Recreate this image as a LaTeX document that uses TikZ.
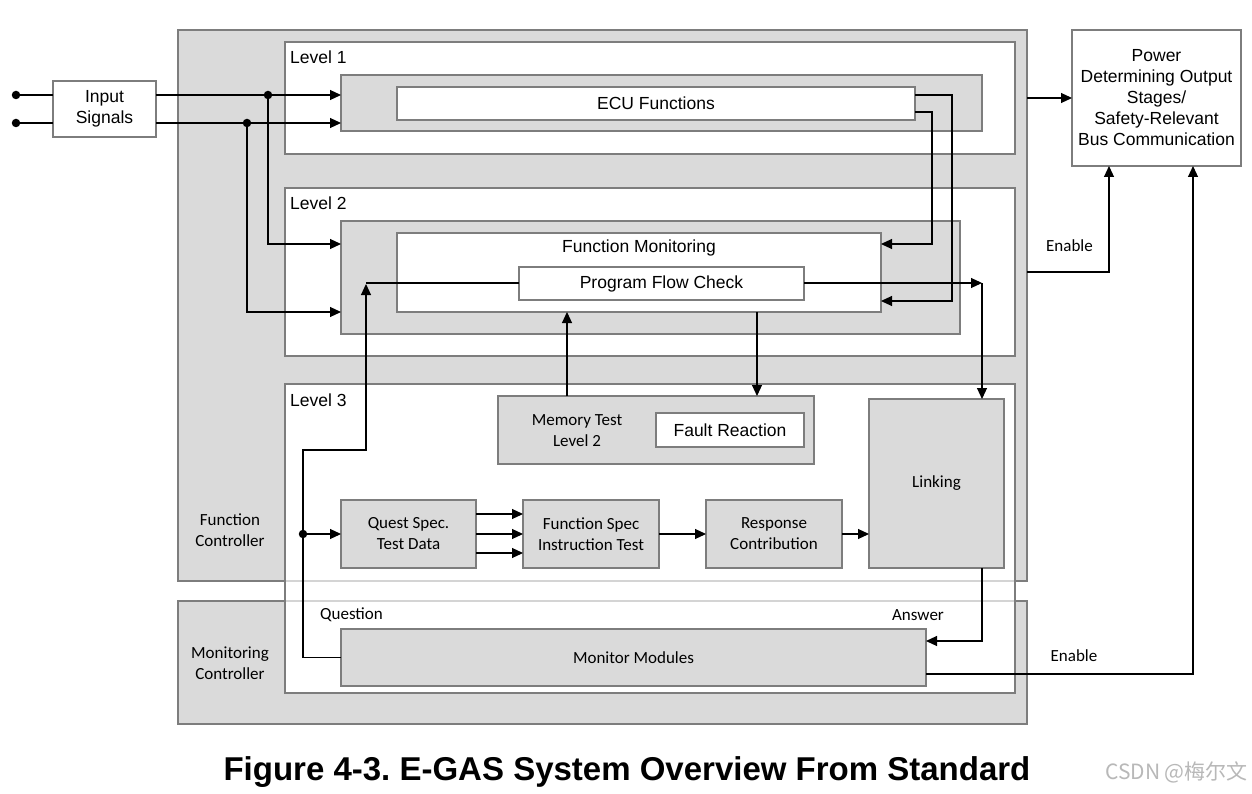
\documentclass[tikz,border=0pt]{standalone}
\usepackage{fontspec}
\setmainfont{Liberation Sans}
\newfontfamily\calib{Carlito}
\newfontfamily\cjkfont{Noto Sans CJK SC}
\usetikzlibrary{arrows.meta,calc}
\definecolor{boxgray}{RGB}{218,218,218}
\definecolor{edgegray}{RGB}{125,125,125}
\definecolor{lightedge}{RGB}{212,212,212}
\frenchspacing
\begin{document}
\begin{tikzpicture}[x=1pt,y=-1pt,
  box/.style={draw=edgegray,line width=2.5pt,fill=boxgray,inner sep=0pt,outer sep=0pt},
  wbox/.style={box,fill=white},
  arr/.style={line width=1.1pt,-{Triangle[length=11pt,width=10pt]}},
  ln/.style={line width=1.1pt},
  atxt/.style={font=\fontsize{17.5}{21}\selectfont,align=center,inner sep=0pt},
  ctxt/.style={font=\calib\fontsize{17}{21}\selectfont,align=center,inner sep=0pt},
  dot/.style={circle,fill=black,inner sep=0pt,minimum size=8.5pt}
]
\useasboundingbox[fill=white] (0,0) rectangle (1252,794);

% controllers
\node[box,minimum width=849pt,minimum height=551pt] (FC) at (602.5,305.5) {};
\node[box,minimum width=849pt,minimum height=123pt] (MC) at (602.5,662.5) {};
% levels
\node[wbox,minimum width=730pt,minimum height=112pt] (L1) at (650,98) {};
\node[wbox,minimum width=730pt,minimum height=168pt] (L2) at (650,272) {};
\node[wbox,minimum width=730pt,minimum height=309pt] (L3) at (650,538.5) {};
\draw[lightedge,line width=2.5pt] ([xshift=1.3pt]L3.west |- FC.south) -- ([xshift=-1.3pt]L3.east |- FC.south);
\draw[lightedge,line width=2.5pt] ([xshift=1.3pt]L3.west |- MC.north) -- ([xshift=-1.3pt]L3.east |- MC.north);

\node[atxt,anchor=west] (l1t) at (290,57) {Level 1};
\node[atxt,anchor=west] (l2t) at (290,203) {Level 2};
\node[atxt,anchor=west] (l3t) at (290,400) {Level 3};
\node[ctxt] (fct) at (230,530.5) {Function\\Controller};
\node[ctxt] (mct) at (230,663) {Monitoring\\Controller};

% level 1
\node[box,minimum width=641pt,minimum height=56pt] (ECUo) at (661.5,103) {};
\node[wbox,minimum width=518pt,minimum height=33pt] (ECU) at (656,103.5) {};
\node[atxt] (ecut) at (656,103.5) {ECU Functions};

% level 2
\node[box,minimum width=619pt,minimum height=113pt] (FMo) at (650.5,277.5) {};
\node[wbox,minimum width=484pt,minimum height=79pt] (FM) at (639,272.5) {};
\node[atxt] (fmt) at (639,248) {Function Monitoring};
\node[wbox,minimum width=285pt,minimum height=33pt] (PFC) at (661.5,283.5) {};
\node[atxt] (pfct) at (661.5,283.5) {Program Flow Check};

% level 3
\node[box,minimum width=316pt,minimum height=68pt] (MT) at (656,430) {};
\node[ctxt] (mtt) at (577,430.5) {Memory Test\\Level 2};
\node[wbox,minimum width=148pt,minimum height=34pt] (FR) at (730,430) {};
\node[atxt] (frt) at (730,430) {Fault Reaction};
\node[box,minimum width=135pt,minimum height=68pt,ctxt] (QS) at (408.5,534) {Quest Spec.\\Test Data};
\node[box,minimum width=136pt,minimum height=68pt,ctxt] (FS) at (591,534) {Function Spec\\Instruction Test};
\node[box,minimum width=136pt,minimum height=68pt,ctxt] (RC) at (774,534) {Response\\Contribution};
\node[box,minimum width=135pt,minimum height=169pt,ctxt] (LK) at (936.5,483.5) {Linking};
\node[box,minimum width=585pt,minimum height=57pt,ctxt] (MM) at (633.5,657.5) {Monitor Modules};

% outside
\node[wbox,minimum width=103pt,minimum height=56pt,atxt] (IS) at (104.5,109) {Input\\Signals};
\node[wbox,minimum width=169pt,minimum height=136pt,atxt] (PW) at (1156.5,98) {Power\\Determining Output\\Stages/\\Safety-Relevant\\Bus Communication};

% labels
\node[ctxt] (en1t) at (1069.5,246) {Enable};
\node[ctxt] (en2t) at (1074,656) {Enable};
\node[ctxt] (qt) at (351.5,615) {Question};
\node[ctxt] (at) at (918,615) {Answer};

% coordinates
\coordinate (in1) at (16,95);
\coordinate (in2) at (16,123);
\coordinate (j1) at (268,95);
\coordinate (j2) at (247,123);
\coordinate (fmi1) at (341,244);
\coordinate (fmi2) at (341,312);
\coordinate (e1) at (915,95);
\coordinate (e2) at (915,112);
\coordinate (fmr1) at (881,244);
\coordinate (fmr2) at (881,301);
\coordinate (pk) at (982,283);
\coordinate (pq) at (366,283);
\coordinate (qd) at (303,534);
\coordinate (mtu) at (567,396);
\coordinate (fmd) at (757,312);
\coordinate (lb) at (982,568);
\coordinate (mma) at (926,641);
\coordinate (en1) at (1027,272);
\coordinate (en2) at (926,674);

% input connectors
\node[dot] (d1) at (in1) {};
\node[dot] (d2) at (in2) {};
\draw[ln] (d1.center) -- (in1 -| IS.west);
\draw[ln] (d2.center) -- (in2 -| IS.west);
\draw[arr] (in1 -| IS.east) -- (in1 -| ECUo.west);
\draw[arr] (in2 -| IS.east) -- (in2 -| ECUo.west);
\draw[arr] (j1) |- (fmi1);
\draw[arr] (j2) |- (fmi2);
\node[dot] (dj1) at (j1) {};
\node[dot] (dj2) at (j2) {};

% ECU outputs
\draw[arr] (e1) -- (952,95) |- (fmr2);
\draw[arr] (e2) -- (932,112) |- (fmr1);

% program flow check
\draw[arr] (PFC.east |- pk) -- (pk);
\draw[arr] (pk) -- (pk |- LK.north);
\draw[ln] (PFC.west |- pq) -- (pq);
\draw[arr] (MM.west) -| (qd) -- (303,450) -| ([yshift=-1pt]pq);
\draw[arr] (qd) -- (qd -| QS.west);
\node[dot] (dq) at (qd) {};

% memory test arrows
\draw[arr] (mtu) -- (mtu |- FM.south);
\draw[arr] (fmd) -- (fmd |- MT.north);

% level 3 chain
\draw[arr] ([yshift=20pt]QS.east) -- ([yshift=20pt]QS.east -| FS.west);
\draw[arr] (QS.east) -- (QS.east -| FS.west);
\draw[arr] ([yshift=-19pt]QS.east) -- ([yshift=-19pt]QS.east -| FS.west);
\draw[arr] (FS.east) -- (FS.east -| RC.west);
\draw[arr] (RC.east) -- (RC.east -| LK.west);
\draw[arr] (lb) |- (mma);

% outputs to power
\draw[arr] (FC.east |- PW.west) -- (PW.west);
\draw[arr] (en1) -| ([xshift=-47.5pt]PW.south);
\draw[arr] (en2) -| ([xshift=36.5pt]PW.south);

% title
\node[font=\bfseries\fontsize{33}{36}\selectfont,inner sep=0pt] (title) at (627,772) {Figure 4-3. E-GAS System Overview From Standard};
\node[font=\cjkfont\fontsize{21}{21}\selectfont,text=black!28,anchor=east,inner sep=0pt] (wm) at (1248,772) {CSDN @梅尔文};
\end{tikzpicture}
\end{document}
